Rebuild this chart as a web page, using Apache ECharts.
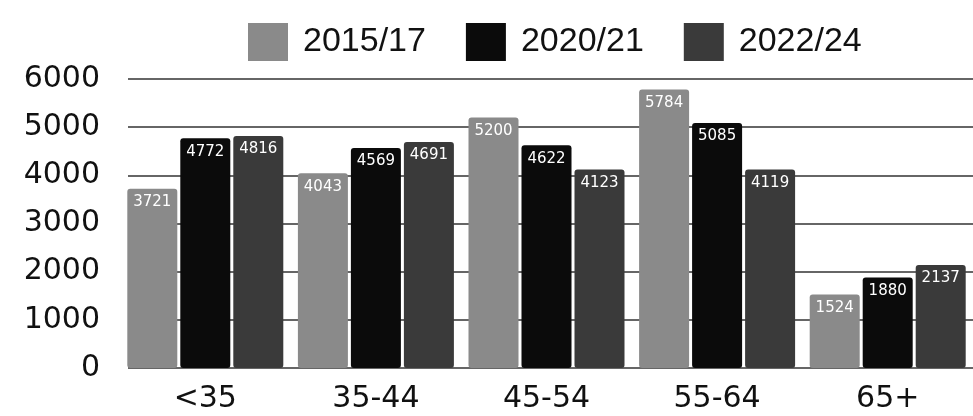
<!DOCTYPE html>
<html>
<head>
<meta charset="utf-8">
<script src="https://cdn.jsdelivr.net/npm/echarts@6/dist/echarts.min.js"></script>
<style>
  html, body { margin: 0; padding: 0; background: #fff; }
  #chart { width: 973px; height: 416px; }
</style>
</head>
<body>
<div id="chart"></div>
<script>
// Age bands and the three survey periods
const ageBands = ['<35', '35-44', '45-54', '55-64', '65+'];
const periods = ['2015/17', '2020/21', '2022/24'];
const values2015 = [3721, 4043, 5200, 5784, 1524];
const values2020 = [4772, 4569, 4622, 5085, 1880];
const values2022 = [4816, 4691, 4123, 4119, 2137];
const yTicks = [0, 1000, 2000, 3000, 4000, 5000, 6000];

const seriesValues = [values2015, values2020, values2022];
const seriesColors = ['#8a8a8a', '#0b0b0b', '#3a3a3a'];

const chart = echarts.init(document.getElementById('chart'), null, { renderer: 'canvas' });

const yMin = yTicks[0];
const yMax = yTicks[yTicks.length - 1];
const yStep = yTicks[1] - yTicks[0];

chart.setOption({
  animation: false,
  backgroundColor: '#ffffff',
  legend: {
    data: periods,
    left: 243,
    top: 18,
    itemWidth: 40,
    itemHeight: 38,
    itemGap: 40,
    icon: 'rect',
    textStyle: {
      fontFamily: 'Liberation Sans',
      fontSize: 34,
      color: '#111',
      padding: [0, 0, 0, 10]
    }
  },
  grid: [
    // bars
    { left: 120, top: 79, width: 870, bottom: 48 },
    // value scale and gridlines
    { left: 128, top: 79, right: 0, bottom: 48 }
  ],
  xAxis: [
    {
      type: 'category',
      gridIndex: 0,
      data: ageBands,
      axisLine: { show: false },
      axisTick: { show: false },
      axisLabel: {
        fontFamily: 'DejaVu Sans',
        fontSize: 30,
        color: '#111',
        margin: 16
      }
    },
    {
      type: 'value',
      gridIndex: 1,
      show: false,
      min: 0,
      max: 1
    }
  ],
  yAxis: [
    {
      type: 'value',
      gridIndex: 0,
      min: yMin,
      max: yMax,
      interval: yStep,
      axisLine: { show: false },
      axisTick: { show: false },
      axisLabel: { show: false },
      splitLine: { show: false }
    },
    {
      type: 'value',
      gridIndex: 1,
      min: yMin,
      max: yMax,
      interval: yStep,
      axisLine: { show: false },
      axisTick: { show: false },
      axisLabel: {
        fontFamily: 'DejaVu Sans',
        fontSize: 30,
        color: '#111',
        margin: 28,
        formatter: (v) => String(v)
      },
      splitLine: { show: true, lineStyle: { color: '#333', width: 1.5 } }
    }
  ],
  series: periods.map((name, i) => ({
    name: name,
    type: 'bar',
    xAxisIndex: 0,
    yAxisIndex: 0,
    data: seriesValues[i],
    barWidth: 50,
    barGap: '6%',
    itemStyle: { color: seriesColors[i], borderRadius: 3 },
    label: {
      show: true,
      position: 'insideTop',
      distance: 6,
      color: '#fff',
      fontFamily: 'DejaVu Sans',
      fontSize: 15
    }
  }))
});
</script>
</body>
</html>
